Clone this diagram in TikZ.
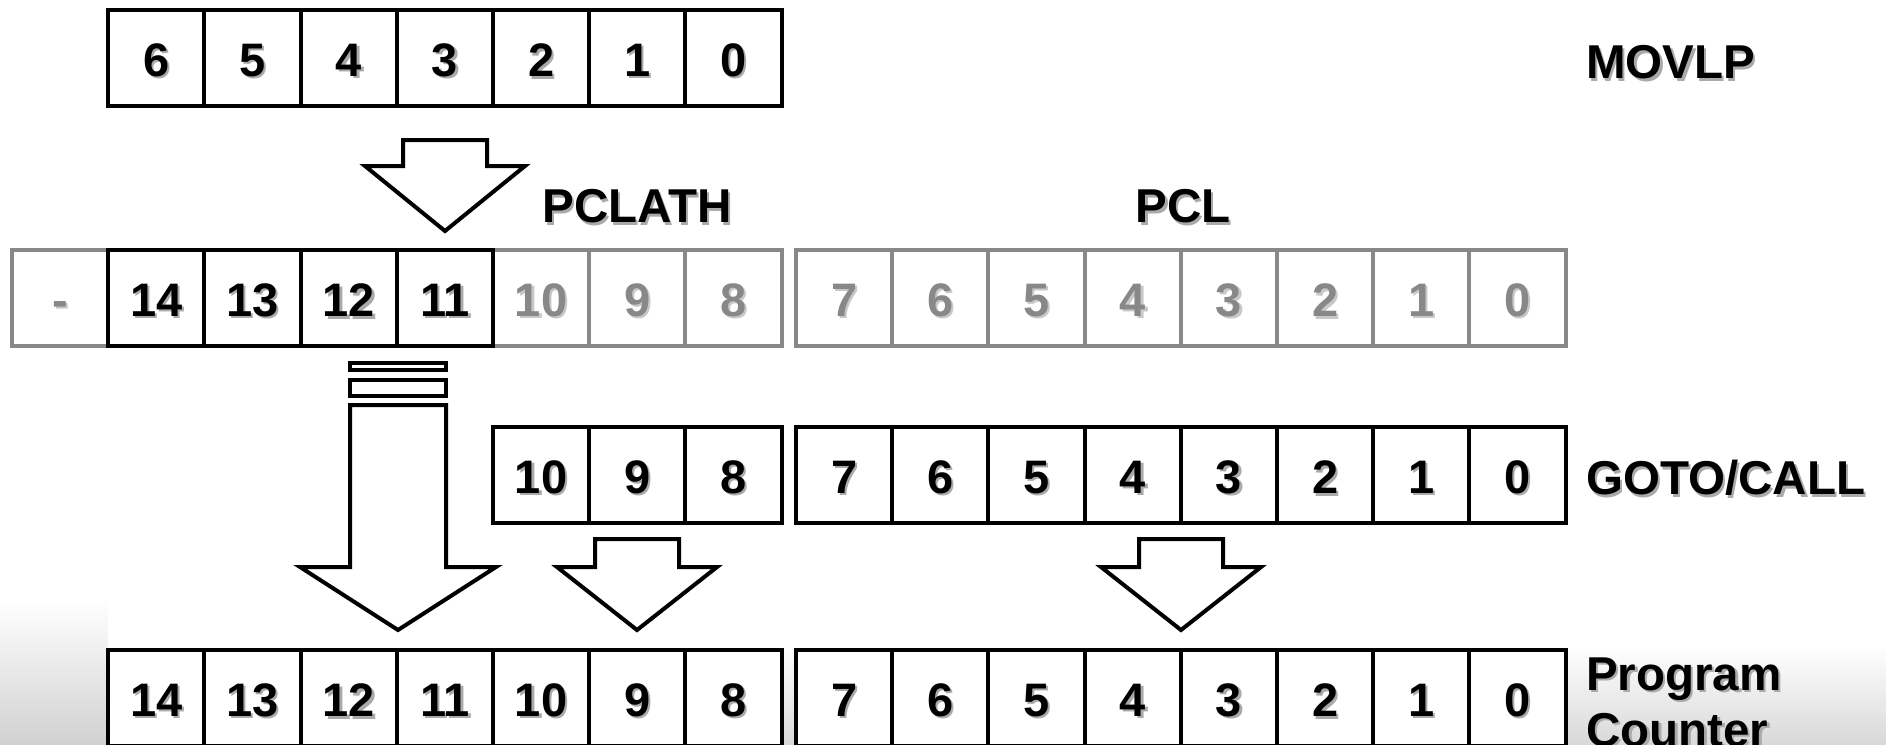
\documentclass[tikz,border=0pt]{standalone}
\usepackage{fontspec}
\setmainfont{Liberation Sans}
\usetikzlibrary{calc}
\definecolor{boxgray}{RGB}{136,136,136}
\definecolor{shblack}{RGB}{170,170,170}
\definecolor{shgray}{RGB}{200,200,200}
\newcommand\shtxt[2]{\raisebox{-3.5pt}[\height][\depth]{\rlap{\kern2.5pt\raisebox{-2.5pt}{\textcolor{#2}{#1}}}#1}}
\newcommand\blockarrow[6]{%
  \draw[blk] ({#1-#3},#2) -- ({#1+#3},#2) -- ({#1+#3},#4) -- ({#1+#5},#4)
     -- (#1,#6) -- ({#1-#5},#4) -- ({#1-#3},#4) -- cycle;}
\tikzset{
  bit/.style={draw=black, line width=4pt, fill=white, minimum width=96.2pt,
    minimum height=96pt, inner sep=0pt, text=black,
    font=\fontsize{47}{56}\selectfont\bfseries},
  graybit/.style={bit, draw=boxgray, text=boxgray},
  lbl/.style={inner sep=0pt, text=black, font=\fontsize{47.5}{56}\selectfont\bfseries},
  blk/.style={draw=black, line width=4pt, fill=white, line join=miter, miter limit=20},
}
\begin{document}
\begin{tikzpicture}[x=1pt,y=-1pt]
\useasboundingbox (0,0) rectangle (1886,744);
% background floor
\shade[top color=white, bottom color=black!15] (0,645) rectangle (1886,744);
\shade[top color=white, bottom color=black!18] (0,600) rectangle (108,744);

% MOVLP register
\foreach \b in {6,...,0}
  \node[bit] (mov\b) at ({60.1+96.2*(7-\b)},58) {\shtxt{\b}{shblack}};
\node[lbl, anchor=west] (movlp) at (1586,60) {\shtxt{MOVLP}{shblack}};

% PCLATH / PCL
\node[graybit] (phx) at (60.1,298) {\shtxt{\vphantom{0}-}{shgray}};
\foreach \b in {10,9,8}
  \node[graybit] (ph\b) at ({60.1+96.2*(15-\b)},298) {\shtxt{\b}{shgray}};
\foreach \b in {14,...,11}
  \node[bit] (ph\b) at ({60.1+96.2*(15-\b)},298) {\shtxt{\b}{shblack}};
\foreach \b in {7,...,0}
  \node[graybit] (pl\b) at ({844.1+96.2*(7-\b)},298) {\shtxt{\b}{shgray}};
\node[lbl] (pclath) at (637,204) {\shtxt{PCLATH}{shblack}};
\node[lbl] (pcl) at (1183,204) {\shtxt{PCL}{shblack}};

% GOTO/CALL
\foreach \b in {10,9,8}
  \node[bit] (gh\b) at ({60.1+96.2*(15-\b)},475) {\shtxt{\b}{shblack}};
\foreach \b in {7,...,0}
  \node[bit] (gl\b) at ({844.1+96.2*(7-\b)},475) {\shtxt{\b}{shblack}};
\node[lbl, anchor=west] (goto) at (1586,476) {\shtxt{GOTO/CALL}{shblack}};

% Program counter
\foreach \b in {14,...,8}
  \node[bit] (ch\b) at ({60.1+96.2*(15-\b)},698) {\shtxt{\b}{shblack}};
\foreach \b in {7,...,0}
  \node[bit] (cl\b) at ({844.1+96.2*(7-\b)},698) {\shtxt{\b}{shblack}};
\node[lbl, align=left, anchor=north west] (pclab) at (1586,654)
  {\shtxt{Program}{shblack}\\\shtxt{Counter}{shblack}};

% block arrows
\blockarrow{445}{140}{42}{166}{80}{231}
\draw[blk] (350,363) rectangle (446,370);
\draw[blk] (350,380) rectangle (446,396);
\blockarrow{398}{405}{48}{567}{98}{630}
\blockarrow{637}{539}{42}{567}{80}{630}
\blockarrow{1181}{539}{42}{567}{80}{630}
\end{tikzpicture}
\end{document}
